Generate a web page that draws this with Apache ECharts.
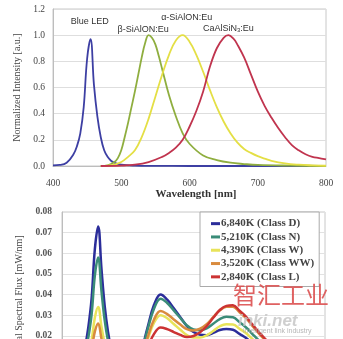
<!DOCTYPE html>
<html><head><meta charset="utf-8">
<script src="https://cdn.jsdelivr.net/npm/echarts@6/dist/echarts.min.js"></script>
<style>html,body{margin:0;padding:0;overflow:hidden;background:#fff}#c{width:343px;height:420px}</style>
</head><body><div id="c"></div><script>
// ---- Top chart: normalized emission spectra [nm, intensity] ----
const blueLed = [[400,0.005],[410,0.008],[420,0.025],[430,0.09],[435,0.15],[440,0.25],[445,0.45],[450,0.82],[455,0.97],[460,0.62],[465,0.38],[470,0.22],[475,0.12],[480,0.07],[485,0.04],[490,0.025],[500,0.01],[520,0.003],[550,0.001],[600,0],[700,0],[800,0]];
const betaSialon = [[470,0],[480,0.005],[490,0.03],[495,0.06],[500,0.12],[505,0.22],[510,0.33],[515,0.45],[520,0.57],[525,0.7],[530,0.83],[535,0.94],[540,1.0],[545,0.98],[550,0.93],[555,0.84],[560,0.74],[570,0.54],[580,0.38],[590,0.25],[600,0.17],[620,0.08],[640,0.045],[660,0.025],[680,0.015],[700,0.008],[750,0.003],[800,0]];
const alphaSialon = [[470,0],[480,0.003],[490,0.01],[500,0.03],[510,0.07],[520,0.12],[530,0.22],[540,0.36],[550,0.53],[560,0.7],[570,0.85],[580,0.96],[590,1.0],[600,0.95],[610,0.85],[620,0.72],[630,0.58],[640,0.45],[650,0.34],[660,0.25],[670,0.18],[680,0.13],[690,0.1],[700,0.075],[710,0.057],[720,0.04],[740,0.02],[760,0.01],[780,0.005],[800,0.002]];
const caAlSiN = [[470,0],[500,0.003],[520,0.01],[540,0.03],[560,0.07],[570,0.1],[580,0.14],[590,0.2],[600,0.3],[610,0.42],[620,0.57],[630,0.76],[640,0.9],[650,0.98],[657,1.0],[665,0.97],[670,0.93],[680,0.83],[690,0.7],[700,0.57],[710,0.46],[720,0.37],[730,0.29],[740,0.22],[750,0.16],[760,0.12],[770,0.09],[780,0.07],[790,0.06],[800,0.05]];
const topNames = ['Blue LED','β-SiAlON:Eu','α-SiAlON:Eu','CaAlSiN3:Eu'];

// ---- Bottom chart: spectral flux [mW/nm] ----
const bottomNm = [400,410,420,430,435,440,445,450,455,460,465,470,475,480,490,500,510,520,530,540,550,560,570,580,590,600,610,620,630,640,650,660,670,680,690,700,710,720,740,760,780,800];
const fluxD  = [0.0004,0.0006,0.0022,0.0088,0.0146,0.0241,0.038,0.0621,0.073,0.0526,0.0343,0.0219,0.0131,0.0073,0.003,0.0025,0.005,0.012,0.0238,0.035,0.04,0.0375,0.0333,0.029,0.0247,0.0218,0.0205,0.0203,0.0214,0.0228,0.0233,0.0229,0.0209,0.0189,0.0162,0.0137,0.0114,0.0092,0.0058,0.0032,0.0019,0.0013];
const fluxN  = [0.0003,0.0005,0.0017,0.007,0.0116,0.0191,0.0302,0.0493,0.058,0.0418,0.0273,0.0174,0.0104,0.0058,0.0024,0.0023,0.0048,0.0115,0.0227,0.0332,0.038,0.0359,0.0323,0.0286,0.025,0.023,0.0227,0.0236,0.0258,0.0281,0.0292,0.029,0.0266,0.024,0.0207,0.0175,0.0146,0.0119,0.0074,0.0041,0.0024,0.0016];
const fluxW  = [0.0002,0.0003,0.001,0.0041,0.0068,0.0112,0.0177,0.0289,0.034,0.0245,0.016,0.0102,0.0061,0.0034,0.0015,0.0016,0.0037,0.009,0.0179,0.0263,0.03,0.0285,0.0257,0.0229,0.0203,0.0191,0.0191,0.0202,0.0223,0.0246,0.0256,0.0255,0.0234,0.0212,0.0183,0.0155,0.013,0.0106,0.0065,0.0036,0.0022,0.0014];
const fluxWW = [0.0001,0.0002,0.0008,0.0031,0.0052,0.0086,0.0135,0.0221,0.026,0.0187,0.0122,0.0078,0.0047,0.0026,0.0012,0.0016,0.0039,0.0095,0.019,0.0279,0.032,0.0305,0.0279,0.0254,0.0232,0.0225,0.0234,0.0256,0.029,0.0323,0.034,0.0341,0.0314,0.0285,0.0246,0.0209,0.0175,0.0142,0.0089,0.0049,0.0029,0.002];
const fluxL  = [0.0001,0.0001,0.0005,0.002,0.0034,0.0056,0.0088,0.0145,0.017,0.0122,0.008,0.0051,0.0031,0.0017,0.0008,0.0012,0.003,0.0071,0.0142,0.0209,0.024,0.0232,0.0218,0.0204,0.0194,0.0199,0.0217,0.0246,0.0287,0.0325,0.0345,0.0348,0.0321,0.0292,0.0253,0.0215,0.0181,0.0146,0.0091,0.0051,0.003,0.002];
const bottomNames = ['6,840K (Class D)','5,210K (Class N)','4,390K (Class W)','3,520K (Class WW)','2,840K (Class L)'];

const serif = '"Liberation Serif","DejaVu Serif",serif';
const sans = '"Liberation Sans","DejaVu Sans",sans-serif';
const zip = (xs, ys) => xs.map((x, i) => [x, ys[i]]);

const chart = echarts.init(document.getElementById('c'), null, {renderer: 'canvas'});

function topSeries(name, data, color, labelCoord, labelText) {
  return {
    name, type: 'line', xAxisIndex: 0, yAxisIndex: 0, data,
    smooth: 0.4, showSymbol: false, symbol: 'none',
    lineStyle: {color, width: 1.8}, itemStyle: {color},
    markPoint: {
      symbol: 'circle', symbolSize: 0, silent: true,
      data: [{coord: labelCoord}],
      label: {show: true, position: 'inside', formatter: labelText, color: '#333', fontSize: 9, fontFamily: sans,
        rich: {a: {fontSize: 9, fontFamily: sans, color: '#333'}, b: {fontSize: 6, fontFamily: sans, color: '#333', padding: [4, 0, 0, 0]}}}
    }
  };
}
function bottomSeries(name, vals, color) {
  return {
    name, type: 'line', xAxisIndex: 1, yAxisIndex: 1, data: zip(bottomNm, vals),
    smooth: 0.4, showSymbol: false, symbol: 'none',
    lineStyle: {color, width: 2.5}, itemStyle: {color}
  };
}

chart.setOption({
  animation: false,
  backgroundColor: '#fff',
  grid: [
    {left: 53, top: 9, width: 273, height: 157, show: true, borderColor: '#c8c8c8', borderWidth: 1, backgroundColor: '#fff'},
    {left: 62, top: 212, width: 263, height: 165, show: true, borderColor: '#c8c8c8', borderWidth: 1, backgroundColor: '#fff'}
  ],
  xAxis: [
    {gridIndex: 0, type: 'value', min: 400, max: 800, interval: 100,
     axisLine: {lineStyle: {color: '#bdbdbd'}}, axisTick: {show: false}, splitLine: {show: false},
     axisLabel: {margin: 12, fontFamily: serif, fontSize: 9.5, color: '#444'},
     name: 'Wavelength [nm]', nameLocation: 'middle', nameGap: 20,
     nameTextStyle: {fontFamily: serif, fontSize: 11, fontWeight: 'bold', color: '#333', padding: [0, 0, 0, 13]}},
    {gridIndex: 1, type: 'value', min: 400, max: 800, interval: 100,
     axisLine: {lineStyle: {color: '#bdbdbd'}}, axisTick: {show: false}, splitLine: {show: false},
     axisLabel: {margin: 12, fontFamily: serif, fontSize: 9.5, color: '#444'}}
  ],
  yAxis: [
    {gridIndex: 0, type: 'value', min: 0, max: 1.2, interval: 0.2,
     axisLine: {show: true, lineStyle: {color: '#bdbdbd'}}, axisTick: {show: false},
     splitLine: {lineStyle: {color: '#dedede'}},
     axisLabel: {margin: 8, fontFamily: serif, fontSize: 9.5, color: '#444', formatter: v => v.toFixed(1)},
     name: 'Normalized Intensity [a.u.]', nameLocation: 'middle', nameGap: 24,
     nameTextStyle: {fontFamily: serif, fontSize: 10, color: '#444'}},
    {gridIndex: 1, type: 'value', min: 0, max: 0.08, interval: 0.01,
     axisLine: {show: true, lineStyle: {color: '#bdbdbd'}}, axisTick: {show: false},
     splitLine: {lineStyle: {color: '#e2e2e2'}},
     axisLabel: {margin: 10, fontFamily: serif, fontSize: 9.5, fontWeight: 'bold', color: '#555', formatter: v => v.toFixed(2)},
     name: 'Total Spectral Flux [mW/nm]', nameLocation: 'middle', nameGap: 33,
     nameTextStyle: {fontFamily: serif, fontSize: 10, color: '#444'}}
  ],
  legend: {
    data: bottomNames, left: 200, top: 212, orient: 'vertical',
    backgroundColor: '#fff', borderColor: '#aaa', borderWidth: 1,
    padding: [5, 5, 3, 11], itemGap: 0, itemWidth: 9, itemHeight: 3, icon: 'rect',
    textStyle: {fontFamily: serif, fontSize: 11, fontWeight: 'bold', color: '#444', lineHeight: 13.3, padding: [0, 0, 0, -4]}
  },
  graphic: [
    {type: 'text', left: 233, top: 283, z: 100, silent: true,
     style: {text: '智汇工业', font: '24px "Noto Sans CJK SC"', fill: 'rgba(220,80,80,0.9)'}},
    {type: 'text', left: 238, top: 313, z: 100, silent: true,
     style: {text: 'inki.net', font: 'italic bold 17px "Liberation Sans"', fill: 'rgba(195,195,195,0.8)'}},
    {type: 'text', left: 243, top: 328, z: 100, silent: true,
     style: {text: 'intelligent link industry', font: '7px "Liberation Sans"', fill: 'rgba(170,170,170,0.85)'}}
  ],
  series: [
    topSeries(topNames[0], blueLed, '#3d3fa3', [453.7, 1.107], 'Blue LED'),
    topSeries(topNames[1], betaSialon, '#8fae3f', [532, 1.046], 'β-SiAlON:Eu'),
    topSeries(topNames[2], alphaSialon, '#e4df45', [596, 1.137], 'α-SiAlON:Eu'),
    topSeries(topNames[3], caAlSiN, '#c0344e', [657, 1.053], '{a|CaAlSiN}{b|3}{a|:Eu}'),
    bottomSeries(bottomNames[0], fluxD, '#2b2d9a'),
    bottomSeries(bottomNames[1], fluxN, '#3a8c78'),
    bottomSeries(bottomNames[2], fluxW, '#e8e35a'),
    bottomSeries(bottomNames[3], fluxWW, '#d98b3e'),
    bottomSeries(bottomNames[4], fluxL, '#cc3333')
  ]
});
</script></body></html>
